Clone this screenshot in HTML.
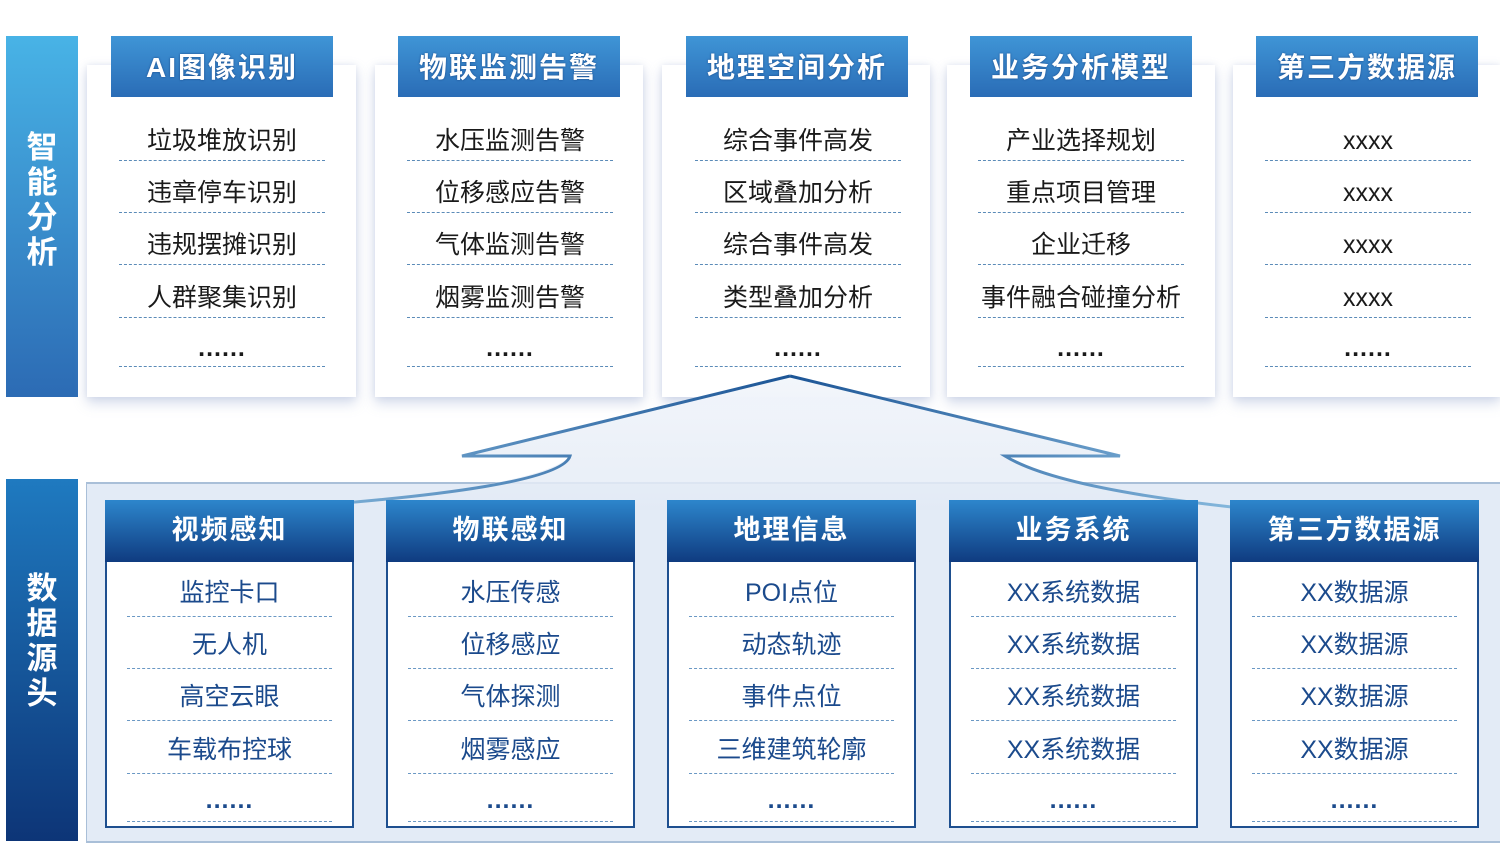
<!DOCTYPE html>
<html><head><meta charset="utf-8"><style>
*{margin:0;padding:0;box-sizing:border-box}
body{width:1500px;height:854px;background:#fff;position:relative;overflow:hidden;font-family:"Liberation Sans","Noto Sans CJK SC",sans-serif}
.side{position:absolute;left:6px;width:72px;color:#fff;font-weight:bold;font-size:31px;line-height:35px;display:flex;align-items:center;justify-content:center;text-align:center}
.s1{top:36px;height:361px;background:linear-gradient(#48b3e6,#2c6bb4);padding-bottom:34px}
.s2{top:479px;height:362px;background:linear-gradient(#1f7ac0,#0d3577);padding-bottom:38px}
.tc{position:absolute;top:65px;height:332px;background:#fff;box-shadow:0 6px 12px rgba(160,175,210,.45),0 0 6px rgba(180,190,220,.3)}
.th{position:absolute;top:36px;width:222px;height:61px;background:linear-gradient(#3f95d6,#2a6cb6);color:#fff;font-weight:bold;font-size:28px;letter-spacing:2px;text-align:center;line-height:64px;text-shadow:0 0 2px #1a4a8a}
.it{position:absolute;width:206px;text-align:center;font-size:25px;color:#1a1a1a;height:52px;padding-top:10px;line-height:44px;border-bottom:1.5px dashed #5b8bb8}
.bc{position:absolute;top:500px;width:249px;height:328px;background:#fff;border:2px solid #1e4f8f}
.bh{position:absolute;left:-2px;top:-2px;right:-2px;height:62px;background:linear-gradient(#2d86cc,#0f3b80);color:#fff;font-weight:bold;font-size:27px;letter-spacing:2px;text-align:center;line-height:60px}
.bi{position:absolute;left:20px;width:205px;text-align:center;font-size:25px;color:#1b4a8c;height:52px;padding-top:6px;line-height:44px;border-bottom:1.5px dashed #6a98c4}
.it.dots{letter-spacing:1px;font-weight:bold;padding-top:11px}
.bi.dots{letter-spacing:1px;font-weight:bold;padding-top:8px}
</style></head><body>
<div class="side s1">智<br>能<br>分<br>析</div>
<div class="side s2">数<br>据<br>源<br>头</div>

<div class="tc" style="left:87px;width:269px"></div>
<div class="tc" style="left:375px;width:268px"></div>
<div class="tc" style="left:662px;width:268px"></div>
<div class="tc" style="left:947px;width:268px"></div>
<div class="tc" style="left:1233px;width:267px"></div>

<div class="th" style="left:111px">AI图像识别</div>
<div class="th" style="left:398px">物联监测告警</div>
<div class="th" style="left:686px">地理空间分析</div>
<div class="th" style="left:970px">业务分析模型</div>
<div class="th" style="left:1256px">第三方数据源</div>

<div class="it" style="left:119px;top:109px">垃圾堆放识别</div>
<div class="it" style="left:119px;top:161px">违章停车识别</div>
<div class="it" style="left:119px;top:213px">违规摆摊识别</div>
<div class="it" style="left:119px;top:266px">人群聚集识别</div>
<div class="it dots" style="left:119px;top:315px">......</div>

<div class="it" style="left:407px;top:109px">水压监测告警</div>
<div class="it" style="left:407px;top:161px">位移感应告警</div>
<div class="it" style="left:407px;top:213px">气体监测告警</div>
<div class="it" style="left:407px;top:266px">烟雾监测告警</div>
<div class="it dots" style="left:407px;top:315px">......</div>

<div class="it" style="left:695px;top:109px">综合事件高发</div>
<div class="it" style="left:695px;top:161px">区域叠加分析</div>
<div class="it" style="left:695px;top:213px">综合事件高发</div>
<div class="it" style="left:695px;top:266px">类型叠加分析</div>
<div class="it dots" style="left:695px;top:315px">......</div>

<div class="it" style="left:978px;top:109px">产业选择规划</div>
<div class="it" style="left:978px;top:161px">重点项目管理</div>
<div class="it" style="left:978px;top:213px">企业迁移</div>
<div class="it" style="left:978px;top:266px">事件融合碰撞分析</div>
<div class="it dots" style="left:978px;top:315px">......</div>

<div class="it" style="left:1265px;top:109px">xxxx</div>
<div class="it" style="left:1265px;top:161px">xxxx</div>
<div class="it" style="left:1265px;top:213px">xxxx</div>
<div class="it" style="left:1265px;top:266px">xxxx</div>
<div class="it dots" style="left:1265px;top:315px">......</div>

<div style="position:absolute;left:86px;top:482px;width:1414px;height:361px;background:#e3ebf6;border-top:2px solid #a9bfd8;border-bottom:2px solid #a9bfd8;border-left:1px solid #a9bfd8"></div>

<svg style="position:absolute;left:0;top:0" width="1500" height="854">
<defs><linearGradient id="g" x1="0" y1="0" x2="0" y2="1"><stop offset="0" stop-color="#f3f6fb"/><stop offset="1" stop-color="#e2eaf5" stop-opacity=".8"/></linearGradient>
<linearGradient id="l" x1="0" y1="0" x2="1" y2="0"><stop offset="0" stop-color="#8bbde0"/><stop offset="1" stop-color="#1c5596"/></linearGradient>
<linearGradient id="r" x1="0" y1="0" x2="1" y2="0"><stop offset="0" stop-color="#1c5596"/><stop offset="1" stop-color="#8bbde0"/></linearGradient></defs>
<path d="M790 376 L1120 456 L1005 456 Q1060 490 1260 510 L250 510 Q540 490 570 456 L462 456 Z" fill="url(#g)"/>
<path d="M790 376 L462 456 L570 456 Q560 490 250 510" fill="none" stroke="url(#l)" stroke-width="3"/>
<path d="M790 376 L1120 456 L1005 456 Q1060 490 1260 510" fill="none" stroke="url(#r)" stroke-width="3"/>
</svg>

<div class="bc" style="left:105px"><div class="bh">视频感知</div>
<div class="bi" style="top:63px">监控卡口</div><div class="bi" style="top:115px">无人机</div><div class="bi" style="top:167px">高空云眼</div><div class="bi" style="top:220px">车载布控球</div><div class="bi dots" style="top:268px">......</div></div>
<div class="bc" style="left:386px"><div class="bh">物联感知</div>
<div class="bi" style="top:63px">水压传感</div><div class="bi" style="top:115px">位移感应</div><div class="bi" style="top:167px">气体探测</div><div class="bi" style="top:220px">烟雾感应</div><div class="bi dots" style="top:268px">......</div></div>
<div class="bc" style="left:667px"><div class="bh">地理信息</div>
<div class="bi" style="top:63px">POI点位</div><div class="bi" style="top:115px">动态轨迹</div><div class="bi" style="top:167px">事件点位</div><div class="bi" style="top:220px">三维建筑轮廓</div><div class="bi dots" style="top:268px">......</div></div>
<div class="bc" style="left:949px"><div class="bh">业务系统</div>
<div class="bi" style="top:63px">XX系统数据</div><div class="bi" style="top:115px">XX系统数据</div><div class="bi" style="top:167px">XX系统数据</div><div class="bi" style="top:220px">XX系统数据</div><div class="bi dots" style="top:268px">......</div></div>
<div class="bc" style="left:1230px"><div class="bh">第三方数据源</div>
<div class="bi" style="top:63px">XX数据源</div><div class="bi" style="top:115px">XX数据源</div><div class="bi" style="top:167px">XX数据源</div><div class="bi" style="top:220px">XX数据源</div><div class="bi dots" style="top:268px">......</div></div>
</body></html>
